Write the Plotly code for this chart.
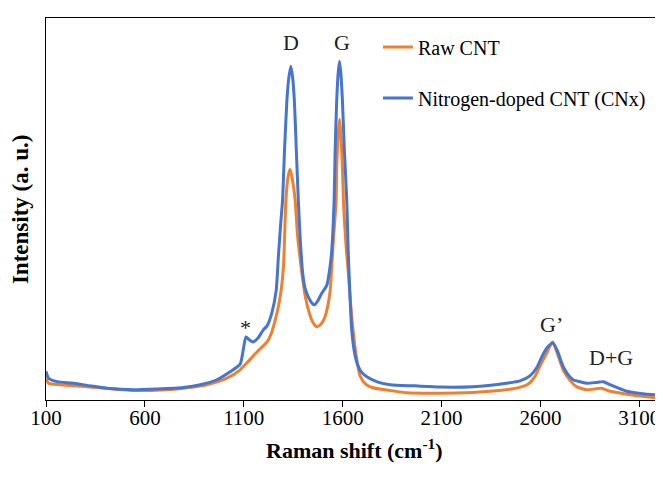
import plotly.graph_objects as go

# Raman shift (cm^-1) and intensity (a.u., 0-100 scale of the frame)
raw_x = [100, 113, 172, 324, 543, 678, 795, 914, 1015, 1082, 1133, 1173, 1218, 1242, 1259,
         1275, 1289, 1301, 1313, 1323, 1334, 1345, 1360, 1372, 1394, 1410, 1427, 1446, 1469,
         1491, 1511, 1526, 1537, 1553, 1567, 1570, 1577, 1584, 1591, 1599, 1604, 1609, 1619,
         1629, 1643, 1654, 1668, 1688, 1718, 1754, 1840, 1924, 2177, 2345, 2480, 2537, 2572,
         2598, 2631, 2662, 2684, 2715, 2749, 2783, 2834, 2876, 2909, 2952, 3053, 3128, 3210]
raw_y = [5.7, 4.4, 4.0, 3.4, 2.5, 2.6, 3.1, 4.0, 5.7, 7.9, 10.7, 12.9, 15.2, 17.8, 20.9,
         24.4, 28.7, 35.2, 52.2, 58.0, 60.4, 58.0, 52.2, 43.1, 33.2, 27.4, 23.6, 20.7, 19.2,
         19.9, 21.8, 24.9, 28.7, 41.8, 52.2, 60.8, 69.1, 73.5, 69.6, 60.8, 52.2, 47.0, 39.2,
         33.2, 23.6, 17.6, 11.8, 6.3, 4.1, 3.2, 2.5, 1.9, 1.8, 2.3, 3.1, 4.1, 6.1,
         8.9, 12.2, 15.2, 12.5, 7.9, 5.2, 3.5, 2.7, 2.9, 3.1, 2.3, 1.4, 0.9, 0.4]

cnx_x = [100, 113, 156, 239, 324, 408, 543, 661, 795, 880, 964, 1031, 1082, 1111, 1127, 1147,
         1173, 1198, 1218, 1243, 1264, 1275, 1286, 1296, 1306, 1318, 1327, 1338, 1347, 1356,
         1366, 1376, 1386, 1398, 1410, 1427, 1441, 1457, 1476, 1495, 1520, 1534, 1545, 1557,
         1562, 1570, 1577, 1584, 1591, 1599, 1609, 1621, 1628, 1638, 1646, 1658, 1672, 1693,
         1722, 1779, 1840, 1966, 2092, 2259, 2429, 2497, 2547, 2582, 2607, 2633, 2662, 2684,
         2715, 2739, 2766, 2834, 2881, 2918, 2952, 3036, 3128, 3210]
cnx_y = [7.5, 5.7, 4.8, 4.4, 3.7, 3.1, 2.7, 2.9, 3.3, 4.0, 5.3, 7.4, 9.4, 16.5, 15.8, 15.2,
         16.3, 18.3, 19.4, 23.0, 28.7, 37.4, 45.6, 52.2, 65.2, 78.3, 84.0, 87.4, 84.5, 78.3,
         65.2, 52.2, 41.8, 33.2, 29.3, 26.9, 25.6, 24.9, 26.1, 28.0, 30.0, 34.0, 39.2, 52.2,
         65.2, 78.3, 85.3, 88.7, 85.6, 78.3, 65.2, 52.2, 39.2, 26.1, 18.3, 13.1, 9.8, 7.4,
         6.1, 4.7, 4.0, 3.7, 3.4, 3.5, 4.4, 5.0, 6.3, 8.5, 11.3, 13.6, 14.9, 13.1,
         8.8, 6.7, 5.3, 4.4, 4.6, 4.8, 4.0, 2.3, 1.6, 1.3]

tick_vals = [100, 600, 1100, 1600, 2100, 2600, 3100]

peak_labels = ["D", "G", "*", "G\u2019", "D+G"]
peak_x = [1339, 1596, 1111, 2658, 2956]
peak_y = [93.5, 93.5, 18.9, 19.7, 11.2]

FONT = "Liberation Serif"

fig = go.Figure()
fig.add_trace(go.Scatter(x=raw_x, y=raw_y, mode="lines", name="Raw CNT",
                         legendgroup="a",
                         line=dict(color="#F07F2E", width=3, shape="spline", smoothing=0.6)))
fig.add_trace(go.Scatter(x=cnx_x, y=cnx_y, mode="lines", name="Nitrogen-doped CNT (CNx)",
                         legendgroup="b",
                         line=dict(color="#4575CE", width=3, shape="spline", smoothing=0.6)))

for t, x, y in zip(peak_labels, peak_x, peak_y):
    fig.add_annotation(x=x, y=y, text=t, showarrow=False, xanchor="center", yanchor="middle",
                       font=dict(family=FONT, size=22, color="#222"))

fig.add_annotation(xref="paper", yref="paper", x=0.5, y=-0.128,
                   xanchor="center", yanchor="middle",
                   text="<b>Raman shift (cm<sup>-1</sup>)</b>", showarrow=False,
                   font=dict(family=FONT, size=22, color="black"))
fig.add_annotation(xref="paper", yref="paper", x=-0.042, y=0.5, textangle=-90,
                   xanchor="center", yanchor="middle",
                   text="<b>Intensity (a. u.)</b>", showarrow=False,
                   font=dict(family=FONT, size=23, color="black"))

fig.update_layout(
    width=663, height=490,
    margin=dict(l=38, r=8, t=10, b=98),
    paper_bgcolor="white", plot_bgcolor="white",
    font=dict(family=FONT, size=20, color="black"),
    showlegend=True,
    legend=dict(x=0.538, y=0.975, xanchor="left", yanchor="top",
                traceorder="grouped", tracegroupgap=22,
                bgcolor="rgba(0,0,0,0)", font=dict(family=FONT, size=20, color="black")),
    xaxis=dict(range=[100, 3220], tickvals=tick_vals, ticks="outside", ticklen=6,
               tickcolor="black", showgrid=False, zeroline=False, showline=True,
               linecolor="black", linewidth=1.3, mirror=True, ticklabelstandoff=-7,
               tickfont=dict(family=FONT, size=21, color="black")),
    yaxis=dict(range=[0, 100], showticklabels=False, ticks="", showgrid=False,
               zeroline=False, showline=True, linecolor="black", linewidth=1.3, mirror=True),
)

fig.write_html("out.html")
